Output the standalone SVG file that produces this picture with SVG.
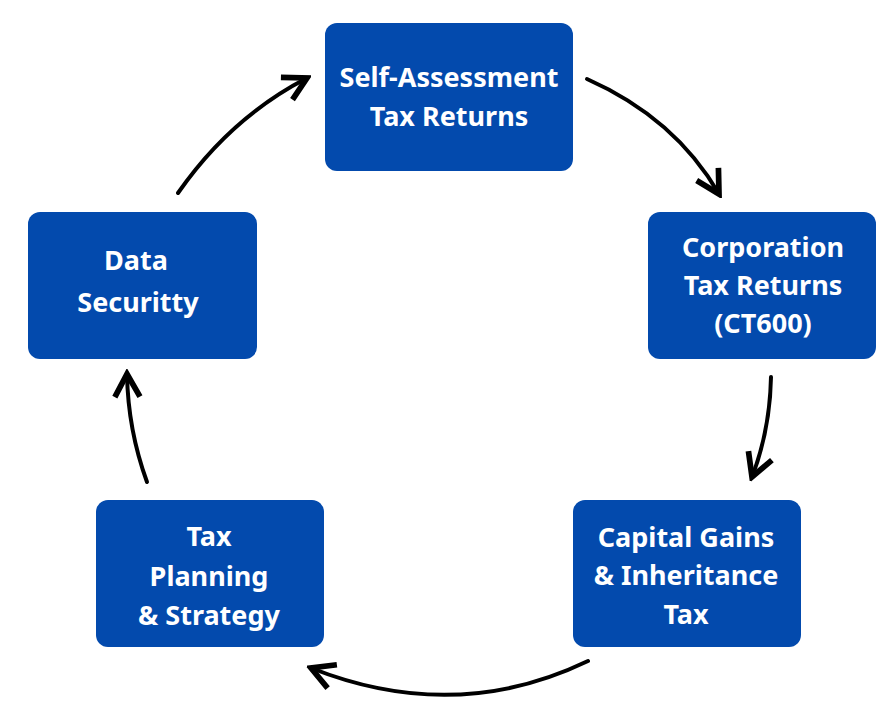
<svg xmlns="http://www.w3.org/2000/svg" width="891" height="717" viewBox="0 0 891 717">
<style>
.box{fill:#034AAD}
.lbl{font-family:"Noto Sans","Open Sans","Liberation Sans",sans-serif;font-weight:700;font-size:27px;fill:#ffffff;text-anchor:middle}
.arr{fill:none;stroke:#000;stroke-width:4;stroke-linecap:round}
</style>
<defs>
<marker id="head" markerUnits="userSpaceOnUse" markerWidth="32" markerHeight="32" viewBox="-24 -13 28 26" refX="0" refY="0" orient="auto">
<path d="M-20,-11 L0,0 L-20,11" fill="none" stroke="#000" stroke-width="5" stroke-linecap="butt" stroke-linejoin="miter"/>
</marker>
</defs>
<rect width="891" height="717" fill="#ffffff"/>
<g id="connectors">
<path class="arr" d="M587,79 Q675,118 719,194" marker-end="url(#head)"/>
<path class="arr" d="M771,377 Q770,430 752,477" marker-end="url(#head)"/>
<path class="arr" d="M588,661 Q455,725 311,668" marker-end="url(#head)"/>
<path class="arr" d="M147,482 Q128,430 127,374" marker-end="url(#head)"/>
<path class="arr" d="M178,193 Q230,118 307,78" marker-end="url(#head)"/>
</g>
<g id="node-self-assessment">
<rect class="box" x="325" y="23" width="248" height="148" rx="12"/>
<text class="lbl" x="449" y="87">Self-Assessment</text>
<text class="lbl" x="449" y="126">Tax Returns</text>
</g>
<g id="node-corporation">
<rect class="box" x="648" y="212" width="228" height="147" rx="12"/>
<text class="lbl" x="763" y="257">Corporation</text>
<text class="lbl" x="763" y="295">Tax Returns</text>
<text class="lbl" x="763" y="333">(CT600)</text>
</g>
<g id="node-capital-gains">
<rect class="box" x="573" y="500" width="228" height="147" rx="12"/>
<text class="lbl" x="686" y="547">Capital Gains</text>
<text class="lbl" x="686" y="585">&amp; Inheritance</text>
<text class="lbl" x="686" y="624">Tax</text>
</g>
<g id="node-tax-planning">
<rect class="box" x="96" y="500" width="228" height="147" rx="12"/>
<text class="lbl" x="209" y="546">Tax</text>
<text class="lbl" x="209" y="586">Planning</text>
<text class="lbl" x="209" y="625">&amp; Strategy</text>
</g>
<g id="node-data-security">
<rect class="box" x="28" y="212" width="229" height="147" rx="12"/>
<text class="lbl" x="136" y="270">Data</text>
<text class="lbl" x="138" y="312">Securitty</text>
</g>
</svg>
